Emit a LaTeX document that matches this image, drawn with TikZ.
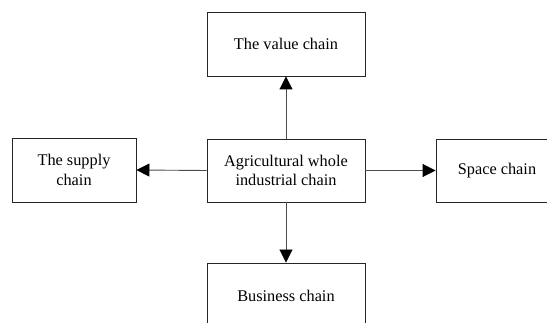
\documentclass[tikz,border=0pt]{standalone}
\usepackage{fontspec}
\setmainfont{Liberation Serif}
\usetikzlibrary{arrows.meta}
\begin{document}
\begin{tikzpicture}[x=1pt,y=-1pt,
  box/.style={draw=black!85,line width=0.9pt,rectangle,align=center,inner sep=0pt,
    font=\fontsize{16.3}{19.5}\selectfont},
  conn/.style={draw=black!70,line width=0.9pt,-{Triangle[length=13pt,width=13pt,color=black,fill=black]}}]
\useasboundingbox (0,0) rectangle (547,323);
\clip (0,0) rectangle (547,323);
\node[box,minimum width=158pt,minimum height=64pt] (value) at (286,44) {The value chain};
\node[box,minimum width=158pt,minimum height=63pt] (agri) at (286,170.5) {Agricultural whole\\industrial chain};
\node[box,minimum width=124pt,minimum height=64pt] (supply) at (74,170) {The supply\\chain};
\node[box,minimum width=122pt,minimum height=63pt] (space) at (497,170.5) {Space chain};
\node[box,minimum width=158pt,minimum height=66pt] (business) at (286,296) {Business chain};
\draw[conn] (agri.north) -- (value.south);
\draw[conn] (agri.west) -- (supply.east);
\draw[conn] (agri.east) -- (space.west);
\draw[conn] (agri.south) -- (business.north);
\end{tikzpicture}
\end{document}
